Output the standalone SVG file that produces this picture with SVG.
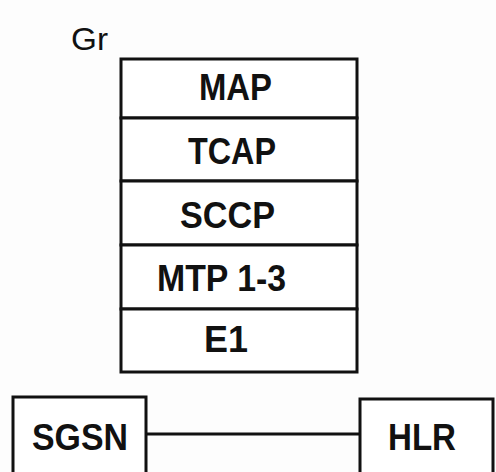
<svg xmlns="http://www.w3.org/2000/svg" width="496" height="472" viewBox="0 0 496 472">
<style>
.box{fill:#fff;stroke:#111;stroke-width:3}
.t{font-family:"Liberation Sans",Arial,sans-serif;font-weight:bold;font-size:37px;fill:#111}
.conn{stroke:#111;stroke-width:3;fill:none}
</style>
<rect width="496" height="472" fill="#fdfdfd"/>
<g id="label-gr"><text x="71" y="50" font-family="Liberation Sans, Arial, sans-serif" font-size="32" fill="#111" textLength="37" lengthAdjust="spacingAndGlyphs">Gr</text></g>
<g id="stack">
<g id="map"><rect class="box" x="121" y="59" width="236" height="59"/><text class="t" x="199" y="100" textLength="73" lengthAdjust="spacingAndGlyphs">MAP</text></g>
<g id="tcap"><rect class="box" x="121" y="118" width="236" height="63"/><text class="t" x="188" y="164" textLength="88" lengthAdjust="spacingAndGlyphs">TCAP</text></g>
<g id="sccp"><rect class="box" x="121" y="181" width="236" height="64"/><text class="t" x="180" y="228" textLength="95" lengthAdjust="spacingAndGlyphs">SCCP</text></g>
<g id="mtp"><rect class="box" x="121" y="245" width="236" height="64"/><text class="t" x="157" y="291" textLength="129" lengthAdjust="spacingAndGlyphs">MTP 1-3</text></g>
<g id="e1"><rect class="box" x="121" y="309" width="236" height="63"/><text class="t" x="204" y="352" textLength="44" lengthAdjust="spacingAndGlyphs">E1</text></g>
</g>
<g id="connectors"><line class="conn" x1="146" y1="434" x2="360" y2="434"/></g>
<g id="sgsn"><rect class="box" x="13" y="397" width="133" height="80"/><text class="t" x="32" y="450" textLength="96" lengthAdjust="spacingAndGlyphs">SGSN</text></g>
<g id="hlr"><rect class="box" x="360" y="399" width="133" height="80"/><text class="t" x="388" y="450" textLength="68" lengthAdjust="spacingAndGlyphs">HLR</text></g>
</svg>
